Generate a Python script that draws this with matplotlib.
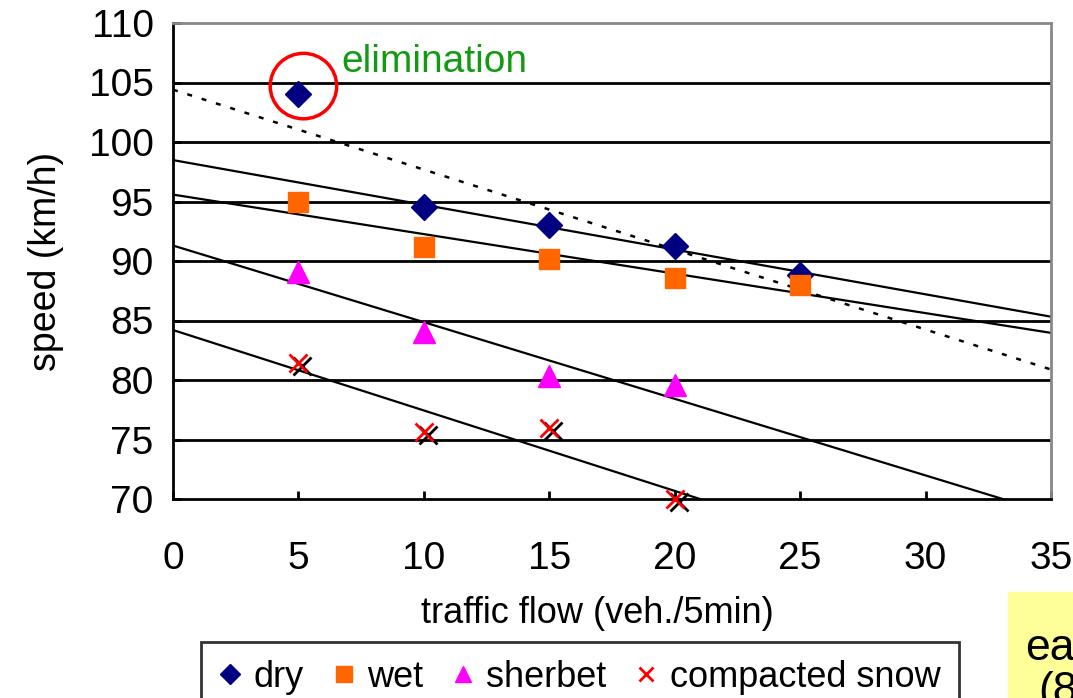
import matplotlib.pyplot as plt
import numpy as np
from matplotlib.patches import Ellipse, Rectangle
from matplotlib.transforms import ScaledTranslation

flow = [5, 10, 15, 20, 25]
dry = [104.0, 94.5, 93.0, 91.3, 88.8]
wet = [95.0, 91.2, 90.2, 88.6, 88.0]
sherbet_flow = [5, 10, 15, 20]
sherbet = [89.1, 84.0, 80.3, 79.6]
snow_flow = [5, 10, 15, 20]
snow = [81.4, 75.6, 76.0, 70.0]

x_ticks = [0, 5, 10, 15, 20, 25, 30, 35]
y_ticks = [70, 75, 80, 85, 90, 95, 100, 105, 110]

plt.rcParams["font.family"] = ["Liberation Sans", "DejaVu Sans"]
NARROW = ["Liberation Sans Narrow", "Liberation Sans", "DejaVu Sans"]

fig = plt.figure(figsize=(10.73, 6.98), dpi=100)
ax = fig.add_axes([173 / 1073, 1 - 499 / 698, 878 / 1073, 476 / 698])

ax.set_xlim(0, 35)
ax.set_ylim(70, 110)
for v in y_ticks[1:-1]:
    ax.axhline(v, color="black", lw=2, zorder=1)

# trend lines (least squares, like the spreadsheet trendlines)
xx = np.array([0, 35])
fits = [
    (flow[1:], dry[1:]),
    (flow, wet),
    (sherbet_flow, sherbet),
    (snow_flow, snow),
]
for fx, fy in fits:
    k, b = np.polyfit(fx, fy, 1)
    ax.plot(xx, k * xx + b, color="black", lw=1.6, zorder=2)
k, b = np.polyfit(flow, dry, 1)
ax.plot(xx, k * xx + b, color="black", lw=1.8, ls=(0, (2, 4)), zorder=2)

ax.plot(flow, dry, "D", color="#000080", ms=13.5, ls="none", label="dry",
        zorder=4, clip_on=False)
ax.plot(flow, wet, "s", color="#ff6600", ms=14.5, ls="none", label="wet",
        zorder=4, clip_on=False)
ax.plot(sherbet_flow, sherbet, "^", color="#ff00ff", ms=16, ls="none",
        label="sherbet", zorder=4, clip_on=False)
shadow = ax.transData + ScaledTranslation(4 / 100, -3 / 100, fig.dpi_scale_trans)
ax.plot(snow_flow, snow, "x", color="black", ms=13, mew=2, ls="none",
        transform=shadow, zorder=3, clip_on=False)
ax.plot(snow_flow, snow, "x", color="#ff0000", ms=13, mew=2, ls="none",
        label="compacted snow", zorder=5, clip_on=False)

# outlier marked for elimination
ax.add_patch(Ellipse((flow[0] + 0.2, dry[0] + 0.7), 2.65, 5.5, fill=False,
                     ec="#ff0000", lw=2.5, zorder=6, clip_on=False))
ax.text(6.7, 106.7, "elimination", color="#129b12", fontsize=28, va="center",
        ha="left")

for side in ["top", "right"]:
    ax.spines[side].set_color("#888888")
    ax.spines[side].set_linewidth(2)
for side in ["left", "bottom"]:
    ax.spines[side].set_linewidth(2)

ax.set_xticks(x_ticks)
ax.set_yticks(y_ticks)
ax.tick_params(axis="both", direction="in", length=6, width=2, labelsize=28)
ax.tick_params(axis="x", pad=30)
ax.tick_params(axis="y", pad=14)

ax.set_xlabel("traffic flow (veh./5min)", fontsize=26, family=NARROW, labelpad=14)
ax.xaxis.label.set_x((597 - 173) / 878)
ax.set_ylabel("speed (km/h)", fontsize=27, labelpad=18)

leg = ax.legend(loc="upper center", bbox_to_anchor=(580 / 1073, 1 - 642 / 698),
                bbox_transform=fig.transFigure, ncol=4, frameon=True,
                fancybox=False, edgecolor="black", borderaxespad=0,
                prop={"family": NARROW, "size": 26}, handlelength=0.6,
                handletextpad=0.35, columnspacing=0.8, borderpad=0.5,
                markerscale=0.75)
leg.get_frame().set_linewidth(2)

# partially visible note box at the bottom right
fig.patches.append(Rectangle((1008 / 1073, 0), 70 / 1073, 106 / 698,
                             transform=fig.transFigure, color="#ffff99",
                             zorder=0))
fig.text(1025 / 1073, 50 / 698, "ea", fontsize=32, va="center", ha="left")
fig.text(1038 / 1073, 6 / 698, "(8", fontsize=32, va="center", ha="left")

fig.savefig("out.png", dpi=100)
